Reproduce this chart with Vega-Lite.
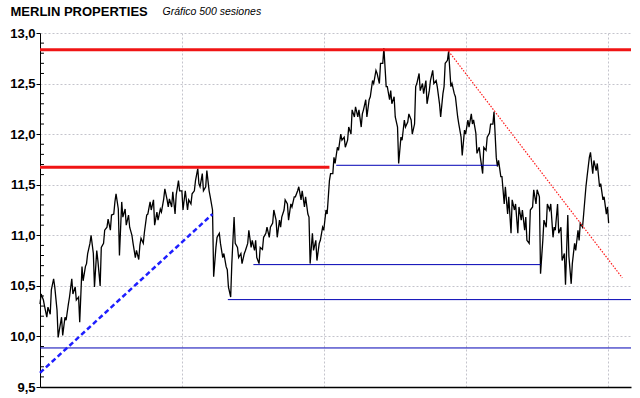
{
  "$schema": "https://vega.github.io/schema/vega-lite/v6.json",
  "autosize": "none",
  "width": 591,
  "height": 354,
  "padding": {"left": 40, "top": 33, "right": 9, "bottom": 11},
  "background": "white",
  "config": {"view": {"stroke": null}},
  "datasets": {
    "price": [
      {"s":0,"v":10.32},{"s":1,"v":10.42},{"s":3,"v":10.36},{"s":4,"v":10.30},{"s":6,"v":10.19},{"s":7,"v":10.29},{"s":9,"v":10.22},{"s":10,"v":10.46},{"s":12,"v":10.57},{"s":13,"v":10.49},{"s":15,"v":10.26},{"s":16,"v":9.99},{"s":17,"v":10.06},{"s":19,"v":10.19},{"s":20,"v":10.01},{"s":22,"v":10.19},{"s":23,"v":10.16},{"s":25,"v":10.32},{"s":26,"v":10.39},{"s":28,"v":10.57},{"s":29,"v":10.42},{"s":31,"v":10.49},{"s":32,"v":10.36},{"s":34,"v":10.39},{"s":35,"v":10.14},{"s":37,"v":10.69},{"s":38,"v":10.55},{"s":40,"v":10.69},{"s":41,"v":10.72},{"s":42,"v":10.82},{"s":44,"v":10.92},{"s":45,"v":11.00},{"s":47,"v":10.82},{"s":48,"v":10.49},{"s":50,"v":10.85},{"s":51,"v":10.75},{"s":53,"v":10.50},{"s":54,"v":10.88},{"s":56,"v":10.92},{"s":57,"v":11.05},{"s":59,"v":11.08},{"s":60,"v":11.16},{"s":62,"v":11.05},{"s":63,"v":11.20},{"s":65,"v":11.21},{"s":66,"v":11.33},{"s":67,"v":11.41},{"s":69,"v":11.26},{"s":70,"v":10.80},{"s":72,"v":11.33},{"s":73,"v":11.18},{"s":75,"v":11.26},{"s":76,"v":11.10},{"s":78,"v":11.20},{"s":79,"v":11.08},{"s":81,"v":11.00},{"s":82,"v":10.92},{"s":84,"v":10.78},{"s":85,"v":10.85},{"s":87,"v":10.76},{"s":88,"v":10.90},{"s":89,"v":10.97},{"s":91,"v":10.92},{"s":92,"v":11.03},{"s":94,"v":11.20},{"s":95,"v":11.21},{"s":97,"v":11.33},{"s":98,"v":11.25},{"s":100,"v":11.35},{"s":101,"v":11.10},{"s":103,"v":11.23},{"s":104,"v":11.15},{"s":106,"v":11.26},{"s":107,"v":11.23},{"s":109,"v":11.36},{"s":110,"v":11.46},{"s":112,"v":11.35},{"s":113,"v":11.28},{"s":114,"v":11.36},{"s":116,"v":11.28},{"s":117,"v":11.43},{"s":119,"v":11.21},{"s":120,"v":11.40},{"s":122,"v":11.54},{"s":123,"v":11.44},{"s":125,"v":11.44},{"s":126,"v":11.25},{"s":128,"v":11.44},
      {"s":130,"v":11.25},{"s":131,"v":11.35},{"s":133,"v":11.31},{"s":134,"v":11.41},{"s":136,"v":11.44},{"s":137,"v":11.54},{"s":139,"v":11.66},{"s":140,"v":11.51},{"s":141,"v":11.48},{"s":143,"v":11.61},{"s":144,"v":11.44},{"s":146,"v":11.48},{"s":147,"v":11.64},{"s":149,"v":11.44},{"s":150,"v":11.38},{"s":152,"v":11.25},{"s":153,"v":10.59},{"s":155,"v":10.88},{"s":156,"v":10.98},{"s":158,"v":11.02},{"s":159,"v":10.92},{"s":161,"v":10.78},{"s":162,"v":10.82},{"s":164,"v":10.69},{"s":165,"v":10.66},{"s":166,"v":10.49},{"s":168,"v":10.39},{"s":169,"v":10.72},{"s":171,"v":11.18},{"s":172,"v":10.92},{"s":174,"v":10.88},{"s":175,"v":10.78},{"s":177,"v":10.82},{"s":178,"v":10.72},{"s":180,"v":10.82},{"s":181,"v":10.85},{"s":183,"v":10.92},{"s":184,"v":11.05},{"s":186,"v":10.88},{"s":187,"v":10.95},{"s":189,"v":10.85},{"s":190,"v":10.95},{"s":191,"v":10.78},{"s":193,"v":10.72},{"s":194,"v":10.88},{"s":196,"v":10.86},{"s":197,"v":10.98},{"s":199,"v":11.02},{"s":200,"v":11.08},{"s":202,"v":10.98},{"s":203,"v":11.08},{"s":205,"v":11.12},{"s":206,"v":11.25},{"s":208,"v":11.15},{"s":209,"v":10.98},{"s":211,"v":11.15},{"s":212,"v":11.08},{"s":213,"v":11.18},{"s":215,"v":11.25},{"s":216,"v":11.35},{"s":218,"v":11.31},{"s":219,"v":11.15},{"s":221,"v":11.31},{"s":222,"v":11.28},{"s":224,"v":11.38},{"s":225,"v":11.38},{"s":227,"v":11.44},{"s":228,"v":11.48},{"s":230,"v":11.35},{"s":231,"v":11.44},{"s":233,"v":11.28},{"s":234,"v":11.38},{"s":236,"v":11.21},{"s":237,"v":11.18},{"s":238,"v":10.72},{"s":240,"v":11.02},{"s":241,"v":10.85},{"s":243,"v":10.95},{"s":244,"v":10.75},{"s":246,"v":10.92},{"s":247,"v":10.95},{"s":249,"v":11.08},{"s":250,"v":11.05},{"s":252,"v":11.25},{"s":253,"v":11.21},{"s":255,"v":11.54},{"s":256,"v":11.61},
      {"s":258,"v":11.61},{"s":259,"v":11.77},{"s":260,"v":11.71},{"s":262,"v":11.87},{"s":263,"v":11.84},{"s":265,"v":12.00},{"s":266,"v":11.94},{"s":268,"v":11.97},{"s":269,"v":11.87},{"s":271,"v":11.94},{"s":272,"v":12.07},{"s":274,"v":12.00},{"s":275,"v":12.24},{"s":277,"v":12.17},{"s":278,"v":12.27},{"s":280,"v":12.17},{"s":281,"v":12.24},{"s":283,"v":12.07},{"s":284,"v":12.20},{"s":285,"v":12.24},{"s":287,"v":12.34},{"s":288,"v":12.17},{"s":290,"v":12.34},{"s":291,"v":12.37},{"s":293,"v":12.53},{"s":294,"v":12.50},{"s":296,"v":12.63},{"s":297,"v":12.60},{"s":299,"v":12.50},{"s":300,"v":12.70},{"s":302,"v":12.70},{"s":303,"v":12.85},{"s":305,"v":12.47},{"s":306,"v":12.47},{"s":308,"v":12.34},{"s":309,"v":12.43},{"s":310,"v":12.30},{"s":312,"v":12.37},{"s":313,"v":12.17},{"s":315,"v":12.07},{"s":316,"v":11.71},{"s":318,"v":11.97},{"s":319,"v":11.94},{"s":321,"v":12.14},{"s":322,"v":12.07},{"s":324,"v":12.12},{"s":325,"v":12.20},{"s":327,"v":12.14},{"s":328,"v":12.00},{"s":330,"v":12.10},{"s":331,"v":12.47},{"s":332,"v":12.50},{"s":334,"v":12.60},{"s":335,"v":12.43},{"s":337,"v":12.50},{"s":338,"v":12.40},{"s":340,"v":12.53},{"s":341,"v":12.30},{"s":343,"v":12.43},{"s":344,"v":12.53},{"s":346,"v":12.63},{"s":347,"v":12.50},{"s":349,"v":12.53},{"s":350,"v":12.47},{"s":352,"v":12.30},{"s":353,"v":12.17},{"s":355,"v":12.40},{"s":356,"v":12.47},{"s":357,"v":12.70},{"s":359,"v":12.73},{"s":360,"v":12.82},{"s":362,"v":12.47},{"s":363,"v":12.50},{"s":365,"v":12.40},{"s":366,"v":12.37},{"s":368,"v":12.17},{"s":369,"v":12.10},{"s":371,"v":11.97},{"s":372,"v":11.79},{"s":374,"v":12.04},{"s":375,"v":12.00},{"s":377,"v":12.14},{"s":378,"v":12.07},
      {"s":380,"v":12.20},{"s":381,"v":12.10},{"s":382,"v":12.14},{"s":384,"v":12.01},{"s":385,"v":11.81},{"s":387,"v":11.87},{"s":388,"v":11.77},{"s":390,"v":11.61},{"s":391,"v":11.87},{"s":393,"v":11.84},{"s":394,"v":11.97},{"s":396,"v":12.01},{"s":397,"v":12.10},{"s":399,"v":12.10},{"s":400,"v":12.22},{"s":402,"v":11.77},{"s":403,"v":11.68},{"s":404,"v":11.74},{"s":406,"v":11.58},{"s":407,"v":11.58},{"s":409,"v":11.31},{"s":410,"v":11.48},{"s":412,"v":11.21},{"s":413,"v":11.38},{"s":415,"v":11.02},{"s":416,"v":11.35},{"s":418,"v":11.25},{"s":419,"v":11.31},{"s":421,"v":11.02},{"s":422,"v":11.28},{"s":424,"v":11.15},{"s":425,"v":11.25},{"s":427,"v":11.05},{"s":428,"v":11.18},{"s":429,"v":10.95},{"s":431,"v":10.92},{"s":432,"v":11.25},{"s":434,"v":11.28},{"s":435,"v":11.45},{"s":437,"v":11.31},{"s":438,"v":11.45},{"s":440,"v":11.38},{"s":441,"v":10.62},{"s":443,"v":10.95},{"s":444,"v":11.15},{"s":446,"v":11.08},{"s":447,"v":11.31},{"s":449,"v":11.25},{"s":450,"v":11.31},{"s":452,"v":10.98},{"s":453,"v":11.08},{"s":454,"v":11.05},{"s":456,"v":11.31},{"s":457,"v":11.02},{"s":459,"v":11.08},{"s":460,"v":10.75},{"s":462,"v":10.82},{"s":463,"v":10.51},{"s":465,"v":11.20},{"s":466,"v":10.79},{"s":468,"v":10.52},{"s":469,"v":10.72},{"s":471,"v":10.92},{"s":472,"v":10.85},{"s":474,"v":11.05},{"s":475,"v":10.95},{"s":476,"v":11.12},{"s":478,"v":11.08},{"s":479,"v":11.21},{"s":481,"v":11.48},{"s":482,"v":11.58},{"s":484,"v":11.77},{"s":485,"v":11.82},{"s":487,"v":11.61},{"s":488,"v":11.74},{"s":490,"v":11.64},{"s":491,"v":11.71},{"s":493,"v":11.48},{"s":494,"v":11.51},{"s":496,"v":11.35},{"s":497,"v":11.38},{"s":499,"v":11.21},{"s":500,"v":11.28},{"s":501,"v":11.12}
    ],
    "redThick": [{"s":0,"s2":520.7,"v":12.835},{"s":0,"s2":255,"v":11.672}],
    "blueThin": [{"s":261,"s2":403,"v":11.692},{"s":188,"s2":441,"v":10.71},{"s":165.5,"s2":520.7,"v":10.364},{"s":0,"s2":520.7,"v":9.886}],
    "blueDash": [{"s":0,"v":9.64,"s2":152,"v2":11.21}],
    "redDot": [{"s":360,"v":12.82,"s2":513,"v2":10.58}],
    "minorTicks": [
      {"s":0,"s2":3.5,"v":9.6},{"s":0,"s2":3.5,"v":9.7},{"s":0,"s2":3.5,"v":9.8},{"s":0,"s2":3.5,"v":9.9},
      {"s":0,"s2":3.5,"v":10.1},{"s":0,"s2":3.5,"v":10.2},{"s":0,"s2":3.5,"v":10.3},{"s":0,"s2":3.5,"v":10.4},
      {"s":0,"s2":3.5,"v":10.6},{"s":0,"s2":3.5,"v":10.7},{"s":0,"s2":3.5,"v":10.8},{"s":0,"s2":3.5,"v":10.9},
      {"s":0,"s2":3.5,"v":11.1},{"s":0,"s2":3.5,"v":11.2},{"s":0,"s2":3.5,"v":11.3},{"s":0,"s2":3.5,"v":11.4},
      {"s":0,"s2":3.5,"v":11.6},{"s":0,"s2":3.5,"v":11.7},{"s":0,"s2":3.5,"v":11.8},{"s":0,"s2":3.5,"v":11.9},
      {"s":0,"s2":3.5,"v":12.1},{"s":0,"s2":3.5,"v":12.2},{"s":0,"s2":3.5,"v":12.3},{"s":0,"s2":3.5,"v":12.4},
      {"s":0,"s2":3.5,"v":12.6},{"s":0,"s2":3.5,"v":12.7},{"s":0,"s2":3.5,"v":12.8},{"s":0,"s2":3.5,"v":12.9}
    ]
  },
  "encoding": {
    "x": {"field": "s", "type": "quantitative",
      "scale": {"domain": [0, 520.7], "nice": false, "zero": false},
      "axis": {"values": [125, 250, 375, 500], "labels": false, "ticks": false,
        "grid": true, "gridColor": "#c4c4cc", "gridDash": [2, 2], "gridWidth": 1,
        "domain": true, "domainColor": "#000000", "domainWidth": 1.5,
        "title": "MERLIN PROPERTIES", "titleX": -30, "titleY": -371.5,
        "titleAlign": "left", "titleBaseline": "alphabetic", "titleAngle": 0,
        "titleFont": "Liberation Sans", "titleFontSize": 13, "titleFontWeight": "bold", "titleColor": "#000000"}},
    "y": {"field": "v", "type": "quantitative",
      "scale": {"domain": [9.5, 13], "nice": false, "zero": false},
      "axis": {
        "values": [9.5,10.0,10.5,11.0,11.5,12.0,12.5,13.0],
        "labelExpr": "replace(format(datum.value,'.1f'),'.',',')",
        "labelOverlap": false,
        "labelFont": "Liberation Sans", "labelFontSize": 13, "labelFontWeight": "bold", "labelColor": "#000000",
        "labelPadding": 1,
        "tickColor": "#000000", "tickSize": 4,
        "domainColor": "#000000",
        "grid": true, "gridColor": "#c4c4cc", "gridDash": [2, 2],
        "title": "Gráfico 500 sesiones", "titleAngle": 0, "titleX": 122, "titleY": -19,
        "titleAlign": "left", "titleBaseline": "alphabetic",
        "titleFont": "Liberation Sans", "titleFontSize": 10.5, "titleFontStyle": "italic", "titleFontWeight": "normal", "titleColor": "#000000"
      }}
  },
  "layer": [
    {
      "data": {"name": "minorTicks"},
      "mark": {"type": "rule", "color": "#000000", "strokeWidth": 1},
      "encoding": {"x2": {"field": "s2"}}
    },
    {
      "data": {"name": "price"},
      "mark": {"type": "line", "color": "#000000", "strokeWidth": 1.3, "interpolate": "linear"}
    },
    {
      "data": {"name": "blueThin"},
      "mark": {"type": "rule", "color": "#0000b4", "strokeWidth": 1},
      "encoding": {"x2": {"field": "s2"}}
    },
    {
      "data": {"name": "redThick"},
      "mark": {"type": "rule", "color": "#f01414", "strokeWidth": 3},
      "encoding": {"x2": {"field": "s2"}}
    },
    {
      "data": {"name": "blueDash"},
      "mark": {"type": "rule", "color": "#1e1eff", "strokeWidth": 2.5, "strokeDash": [5, 3]},
      "encoding": {"x2": {"field": "s2"}, "y2": {"field": "v2"}}
    },
    {
      "data": {"name": "redDot"},
      "mark": {"type": "rule", "color": "#ff1a1a", "strokeWidth": 1.2, "strokeDash": [1.5, 1.5]},
      "encoding": {"x2": {"field": "s2"}, "y2": {"field": "v2"}}
    }
  ]
}
